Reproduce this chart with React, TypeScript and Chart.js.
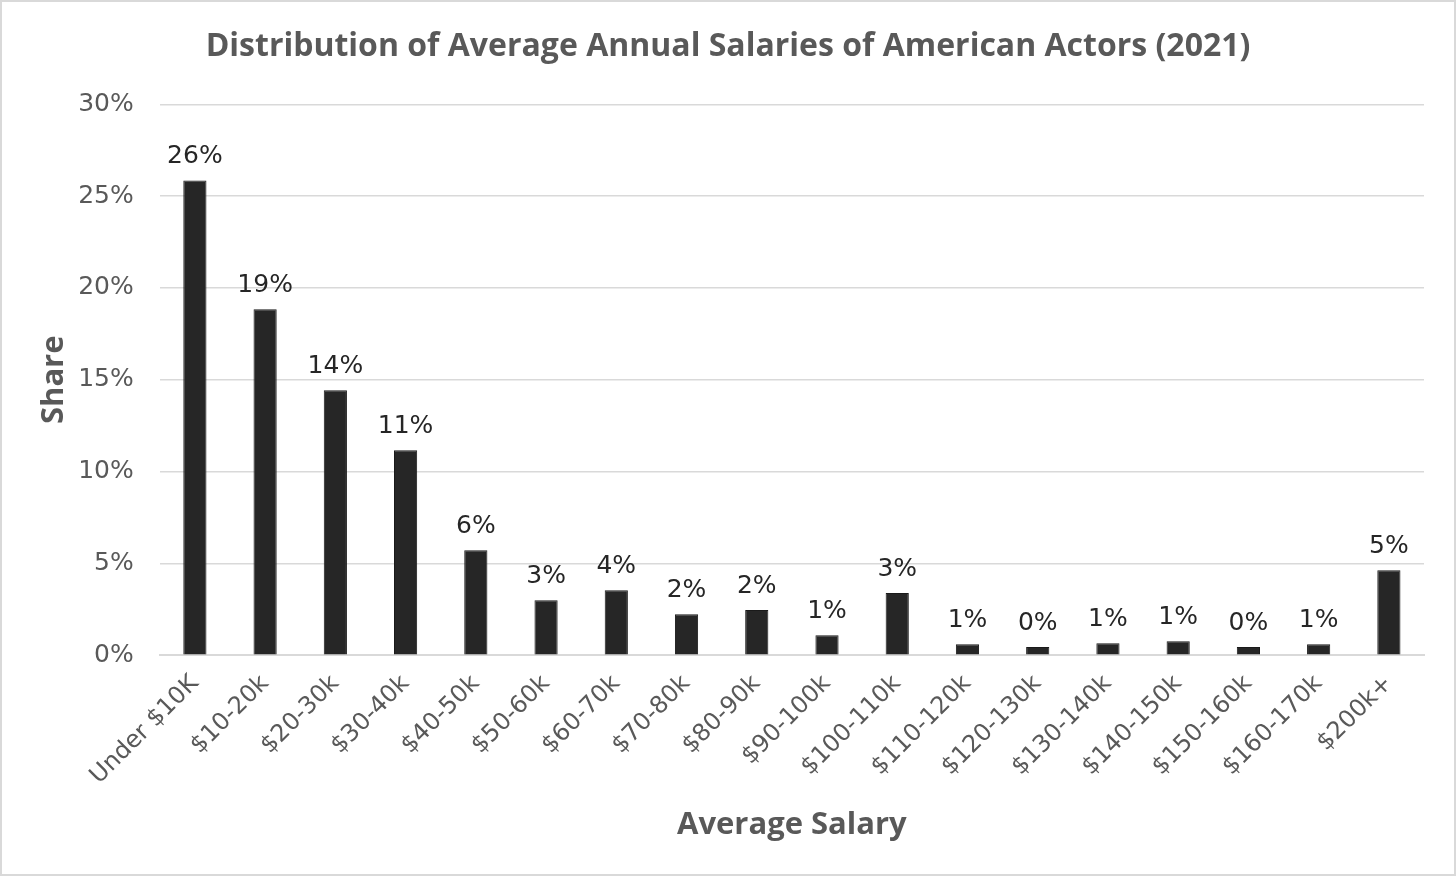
import { useEffect, useRef } from "react"
import { Chart, registerables } from "chart.js"

Chart.register(...registerables)

const categories = [
  "Under $10K",
  "$10-20k",
  "$20-30k",
  "$30-40k",
  "$40-50k",
  "$50-60k",
  "$60-70k",
  "$70-80k",
  "$80-90k",
  "$90-100k",
  "$100-110k",
  "$110-120k",
  "$120-130k",
  "$130-140k",
  "$140-150k",
  "$150-160k",
  "$160-170k",
  "$200k+",
]

// share of actors, in percent
const shares = [
  25.86, 18.84, 14.43, 11.16, 5.72, 2.99, 3.54, 2.23, 2.46, 1.09, 3.38, 0.6, 0.44, 0.65, 0.76, 0.44, 0.6, 4.63,
]

const yTicks = [0, 5, 10, 15, 20, 25, 30]

const TICK_FONT = "'DejaVu Sans', Verdana, sans-serif"
const TITLE_FONT = "'Open Sans', Calibri, sans-serif"

// Draws the rounded percent above each bar
const barLabels = {
  id: "barLabels",
  afterDatasetsDraw(chart: Chart) {
    const ctx = chart.ctx
    const meta = chart.getDatasetMeta(0)
    ctx.save()
    ctx.font = `25px ${TICK_FONT}`
    ctx.fillStyle = "#262626"
    ctx.textAlign = "center"
    ctx.textBaseline = "bottom"
    meta.data.forEach((bar, i) => {
      const { x, y } = bar.getProps(["x", "y"], true) as { x: number; y: number }
      ctx.fillText(`${Math.round(shares[i])}%`, x, y - 11)
    })
    ctx.restore()
  },
}

export default function App() {
  const chartRef = useRef<HTMLCanvasElement>(null)
  const chartInstance = useRef<Chart | null>(null)

  useEffect(() => {
    document.body.style.margin = "0"
    if (!chartRef.current) return
    if (chartInstance.current) chartInstance.current.destroy()
    const ctx = chartRef.current.getContext("2d")
    if (!ctx) return

    chartInstance.current = new Chart(ctx, {
      type: "bar",
      data: {
        labels: categories,
        datasets: [
          {
            data: shares,
            backgroundColor: "#262626",
            borderColor: "#1a1a1a",
            borderWidth: 1,
            barPercentage: 0.33,
            categoryPercentage: 1,
          },
        ],
      },
      options: {
        animation: false,
        responsive: true,
        maintainAspectRatio: false,
        layout: { autoPadding: false, padding: { top: 14, right: 30, bottom: 26, left: 30 } },
        plugins: {
          legend: { display: false },
          tooltip: { enabled: false },
          title: {
            display: true,
            text: "Distribution of Average Annual Salaries of American Actors (2021)",
            color: "#595959",
            font: { family: TITLE_FONT, size: 32, weight: "bold" },
            padding: { top: 12, bottom: 38 },
          },
        },
        scales: {
          x: {
            grid: { display: false, drawTicks: false },
            border: { color: "#d9d9d9", width: 2 },
            ticks: {
              color: "#595959",
              font: { family: TICK_FONT, size: 24 },
              maxRotation: 45,
              minRotation: 45,
              padding: 14.5,
            },
            title: {
              display: true,
              text: "Average Salary",
              color: "#595959",
              font: { family: TITLE_FONT, size: 31, weight: "bold" },
              padding: { top: 2 },
            },
          },
          y: {
            min: 0,
            max: 30,
            afterBuildTicks: (axis) => {
              axis.ticks = yTicks.map((v) => ({ value: v }))
            },
            grid: { color: "#d9d9d9", lineWidth: 1.5, drawTicks: false },
            border: { display: false },
            ticks: {
              color: "#595959",
              font: { family: TICK_FONT, size: 25 },
              padding: 26,
              callback: (v) => `${v}%`,
            },
            title: {
              display: true,
              text: "Share",
              color: "#595959",
              font: { family: TITLE_FONT, size: 31, weight: "bold" },
              padding: { bottom: -21 },
            },
          },
        },
      },
      plugins: [barLabels],
    })

    return () => {
      if (chartInstance.current) {
        chartInstance.current.destroy()
        chartInstance.current = null
      }
    }
  }, [])

  return (
    <div
      style={{
        position: "relative",
        width: 1452,
        height: 872,
        border: "2px solid #d9d9d9",
        background: "#fff",
        boxSizing: "content-box",
      }}
    >
      <canvas ref={chartRef} />
    </div>
  )
}
